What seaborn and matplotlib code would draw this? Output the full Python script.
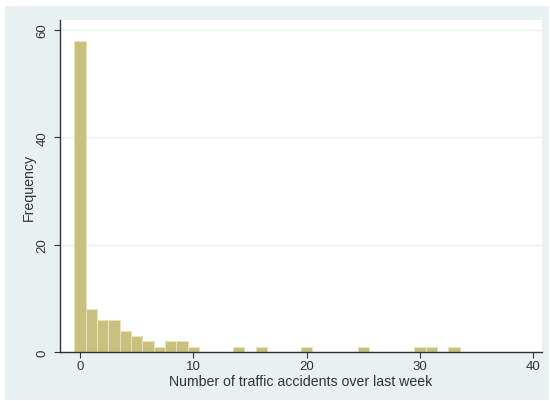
import numpy as np
import pandas as pd
import matplotlib
matplotlib.use("Agg")
import matplotlib.pyplot as plt
import seaborn as sns
from matplotlib.patches import Rectangle

# data: number of accidents -> frequency
accidents = [0, 1, 2, 3, 4, 5, 6, 7, 8, 9, 10, 14, 16, 20, 25, 30, 31, 33]
frequency = [58, 8, 6, 6, 4, 3, 2, 1, 2, 2, 1, 1, 1, 1, 1, 1, 1, 1]
xticks = [0, 10, 20, 30, 40]
yticks = [0, 20, 40, 60]

df = pd.DataFrame({"acc": accidents, "freq": frequency})

sns.set_style("white")
plt.rcParams["font.family"] = ["Liberation Sans", "DejaVu Sans"]

fig = plt.figure(figsize=(5.5, 4.02), dpi=100)
fig.patch.set_facecolor("white")
fig.patches.append(Rectangle((5 / 550, 1 / 402), 544 / 550, 394 / 402,
                             transform=fig.transFigure, facecolor="#e8f0f2",
                             edgecolor="none", zorder=-10))

ax = fig.add_axes([60 / 550, 49 / 402, 482 / 550, 332 / 402])
ax.set_facecolor("white")

sns.histplot(data=df, x="acc", weights="freq", discrete=True, ax=ax,
             color="#c8c07c", edgecolor="#e6e2bc", linewidth=0.8, alpha=1)

ax.set_xlim(-1.765, 40.77)
ax.set_ylim(0, 61.86)
ax.set_xticks(xticks)
ax.set_yticks(yticks)
for y in yticks[1:]:
    ax.axhline(y, color="#e8f0f2", lw=1.0, zorder=0)

for s in ["top", "right"]:
    ax.spines[s].set_visible(False)
for s in ["left", "bottom"]:
    ax.spines[s].set_color("#333333")
    ax.spines[s].set_linewidth(1.0)

ax.tick_params(axis="both", direction="out", length=4, width=0.8,
               color="#333333", labelcolor="#333333", labelsize=9.5,
               bottom=True, left=True)
ax.tick_params(axis="x", pad=2)
ax.tick_params(axis="y", pad=4.5, labelrotation=90)
for lab in ax.get_yticklabels():
    lab.set_va("center")

ax.set_xlabel("Number of traffic accidents over last week", fontsize=10.2,
              color="#333333", labelpad=1)
ax.set_ylabel("Frequency", fontsize=10.2, color="#333333", labelpad=0)

fig.savefig("out.png", dpi=100, facecolor=fig.get_facecolor())
